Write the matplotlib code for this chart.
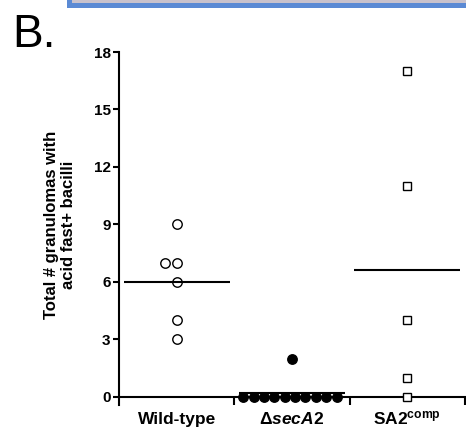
import numpy as np
import matplotlib.pyplot as plt
from matplotlib.patches import Rectangle

plt.rcParams['font.family'] = ['Liberation Sans', 'DejaVu Sans']
plt.rcParams['mathtext.fontset'] = 'custom'
plt.rcParams['mathtext.rm'] = 'Liberation Sans:bold'
plt.rcParams['mathtext.it'] = 'Liberation Sans:italic:bold'
plt.rcParams['mathtext.bf'] = 'Liberation Sans:bold'

groups = ['Wild-type', r'$\Delta\mathit{secA2}$', r'SA2$^{\mathrm{comp}}$']
wild_type = [9, 7, 7, 6, 4, 3]
sec_a2 = [2, 0, 0, 0, 0, 0, 0, 0, 0, 0, 0]
sa2_comp = [17, 11, 4, 1, 0]
yticks = [0, 3, 6, 9, 12, 15, 18]


def spread(vals, step):
    # column-scatter style offsets for repeated values
    vals = np.asarray(vals, float)
    off = np.zeros(len(vals))
    for v in np.unique(vals):
        idx = np.where(vals == v)[0]
        n = len(idx)
        off[idx] = (np.arange(n) - n // 2 + (0.3 if n > 2 else 0)) * step
    return off


fig = plt.figure(figsize=(4.66, 4.30), dpi=100)
ax = fig.add_axes([119 / 466, 25 / 430, 346 / 466, 353 / 430])

# spine position first: moving it resets the ticks
for s in ['top', 'right']:
    ax.spines[s].set_visible(False)
ax.spines['bottom'].set_position(('data', 0))
ax.spines['left'].set_linewidth(1.5)
ax.spines['bottom'].set_linewidth(1.5)

styles = [dict(marker='o', mfc='white', mec='black', ms=6.8, mew=1.0),
          dict(marker='o', mfc='black', mec='black', ms=6.8, mew=1.0),
          dict(marker='s', mfc='white', mec='black', ms=5.8, mew=1.0)]
steps = [0.104, 0.09, 0.1]

for i, vals in enumerate([wild_type, sec_a2, sa2_comp]):
    x = i + spread(vals, steps[i])
    ax.plot(x, vals, ls='none', clip_on=False, zorder=3, **styles[i])
    m = np.mean(vals)
    ax.plot([i - 0.46, i + 0.46], [m, m], color='black', lw=1.5, zorder=4,
            solid_capstyle='butt')

ax.set_xlim(-0.5, 2.5)
ax.set_ylim(-0.42, 18)
ax.set_yticks(yticks)
ax.set_yticklabels([str(t) for t in yticks])
ax.set_xticks([0, 1, 2])
ax.set_xticklabels(groups)
ax.set_xticks([0.5, 1.5, 2.5], minor=True)
ax.tick_params(axis='x', which='major', length=0, pad=19.5)
ax.tick_params(axis='x', which='minor', length=6, width=1.5, direction='out')
ax.tick_params(axis='y', length=4.5, width=1.5, pad=1.5)
plt.setp(ax.get_yticklabels(), fontweight='bold', fontsize=11)
plt.setp(ax.get_xticklabels(), fontweight='bold', fontsize=12.5, va='baseline')

fig.text(60 / 466, 1 - 225 / 430, 'Total # granulomas with\nacid fast+ bacilli',
         rotation=90, ha='center', va='center', multialignment='center',
         fontsize=12, fontweight='bold', linespacing=1.12)

fig.text(12 / 466, 1 - 47 / 430, 'B.', fontsize=33, va='baseline', ha='left')

# strip of the panel above
fig.patches.append(Rectangle((67 / 466, 1 - 8 / 430), 1 - 67 / 466, 8 / 430,
                             transform=fig.transFigure, facecolor='#5b8ad4',
                             edgecolor='none'))
fig.patches.append(Rectangle((72 / 466, 1 - 3 / 430), 1 - 72 / 466, 3 / 430,
                             transform=fig.transFigure, facecolor='#c9c2cc',
                             edgecolor='none'))

fig.savefig('out.png', dpi=100)
